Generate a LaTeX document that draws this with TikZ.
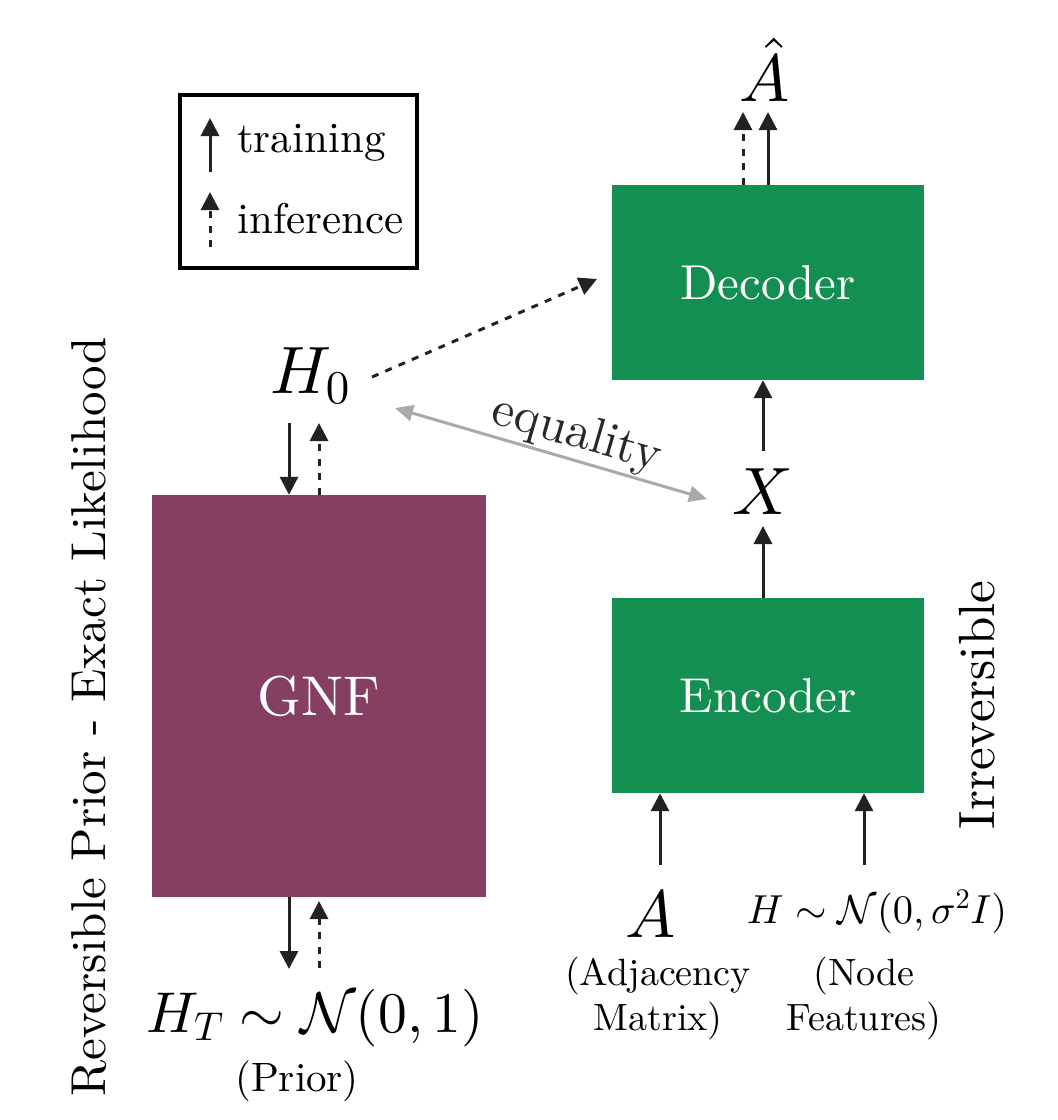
\RequirePackage{fix-cm}
\documentclass[tikz,border=0pt]{standalone}
\usepackage{amsmath}
\DeclareFontShape{TU}{lmr}{m}{n}{<-> "[lmroman10-regular]:mapping=tex-text;"}{}
\DeclareFontShape{OML}{cmm}{m}{it}{<-> cmmi10}{}
\DeclareFontShape{OMS}{cmsy}{m}{n}{<-> cmsy10}{}
\DeclareFontShape{OT1}{cmr}{m}{n}{<-> cmr10}{}
\usetikzlibrary{arrows.meta}
\definecolor{encgreen}{RGB}{20,143,82}
\definecolor{gnfpurple}{RGB}{132,63,99}
\definecolor{arrowdark}{RGB}{34,34,34}
\definecolor{eqgray}{RGB}{170,170,170}
\definecolor{labeldark}{RGB}{40,40,40}
\newcommand{\fsz}[1]{\fontsize{#1}{#1}\selectfont}
\begin{document}
\begin{tikzpicture}[x=1pt,y=-1pt,
  tr/.style={draw=arrowdark, line width=3pt, -{Triangle[length=18pt,width=18pt]}},
  inf/.style={tr, dash pattern=on 7pt off 7.5pt},
  eqarrow/.style={draw=eqgray, line width=3pt, {Triangle[length=18pt,width=16pt]}-{Triangle[length=18pt,width=16pt]}},
  block/.style={fill=#1, draw=none, text=white, inner sep=0pt},
  bigmath/.style={font=\fsz{67}, inner sep=0pt, anchor=base},
  caption/.style={font=\fontsize{38}{45}\selectfont, align=center, inner sep=0pt},
  legtext/.style={font=\fsz{43}, inner sep=0pt, anchor=base west},
  sidelabel/.style={font=\fsz{49}, rotate=90, inner sep=0pt}]
\useasboundingbox[fill=white] (0,0) rectangle (1058,1120);

% legend
\node[draw=black, line width=3.5pt, minimum width=237pt, minimum height=173pt, inner sep=0pt] (leg) at (298.5,181.5) {};
\coordinate (lt1) at (210,172);
\coordinate (lt2) at (210,118);
\coordinate (li1) at (210,247);
\coordinate (li2) at (210,192);
\draw[tr] (lt1) -- (lt2);
\draw[inf] (li1) -- (li2);
\node[legtext] (ltrain) at (237,152) {training};
\node[legtext] (linf) at (237,233) {inference};

% blocks
\node[block=encgreen, minimum width=312pt, minimum height=195pt, font=\fsz{49}] (dec) at (768,282.5) {Decoder};
\node[block=encgreen, minimum width=312pt, minimum height=195pt, font=\fsz{49}] (enc) at (768,695.5) {Encoder};
\node[block=gnfpurple, minimum width=334pt, minimum height=402pt, font=\fsz{56}] (gnf) at (319,696) {GNF};

% math labels
\node[bigmath] (Ahat) at (765,101) {$\hat{A}$};
\node[bigmath] (X) at (763,514) {$X$};
\node[bigmath] (H0) at (310,393) {$H_0$};
\node[bigmath] (A) at (651,937) {$A$};
\node[font=\fsz{40.5}, inner sep=0pt, anchor=base] (Hfeat) at (877,923) {$H\sim\mathcal{N}(0,\sigma^2 I)$};
\node[font=\fsz{57.5}, inner sep=0pt, anchor=base] (HT) at (315,1032) {$H_T\sim\mathcal{N}(0,1)$};

\node[caption] (adj) at (658,998) {(Adjacency\\Matrix)};
\node[caption] (feat) at (864,998) {(Node\\Features)};
\node[font=\fsz{41}, inner sep=0pt, anchor=base] (prior) at (297,1091) {(Prior)};

% side labels
\node[sidelabel] (rev) at (89,717) {Reversible Prior - Exact Likelihood};
\node[sidelabel, font=\fsz{51}] (irr) at (977,705) {Irreversible};

% decoder outputs
\coordinate (d1) at (743,112);
\coordinate (d2) at (768,112);
\draw[inf] (d1 |- dec.north) -- (d1);
\draw[tr] (d2 |- dec.north) -- (d2);

% X <-> decoder / encoder
\coordinate (xt) at (763,451);
\coordinate (xb) at (763,526);
\draw[tr] (xt) -- (xt |- dec.south);
\draw[tr] (xb |- enc.north) -- (xb);

% encoder inputs
\coordinate (ea) at (660,865);
\coordinate (ef) at (864,865);
\draw[tr] (ea) -- (ea |- enc.south);
\draw[tr] (ef) -- (ef |- enc.south);

% GNF top
\coordinate (gt1) at (289,423);
\coordinate (gt2) at (319,423);
\draw[tr] (gt1) -- (gt1 |- gnf.north);
\draw[inf] (gt2 |- gnf.north) -- (gt2);

% GNF bottom
\coordinate (gb1) at (289,969);
\coordinate (gb2) at (319,968);
\coordinate (gb2t) at (319,901);
\draw[tr] (gb1 |- gnf.south) -- (gb1);
\draw[inf] (gb2) -- (gb2t);

% H0 -> decoder
\coordinate (h0s) at (372,377);
\coordinate (h0e) at (597,279);
\draw[inf] (h0s) -- (h0e);

% equality
\coordinate (eqa) at (395,408);
\coordinate (eqb) at (707,499);
\draw[eqarrow] (eqa) -- node[sloped, above=1pt, pos=0.56, font=\fsz{50}, text=labeldark, inner sep=0pt] (eqlab) {equality} (eqb);
\end{tikzpicture}
\end{document}
